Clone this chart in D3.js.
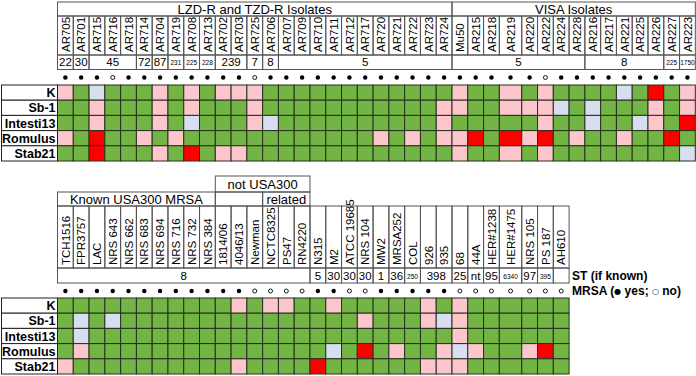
<!DOCTYPE html>
<html>
<head>
<meta charset="utf-8">
<script src="https://cdn.jsdelivr.net/npm/d3@7"></script>
<style>
  body { margin: 0; background: #fff; }
  svg { display: block; font-family: "Liberation Sans Narrow", "Liberation Sans", Arial, sans-serif; }
</style>
</head>
<body>
<svg id="chart" width="696" height="376"></svg>
<script>
// strains tested (rows)
const strains = ["K", "Sb-1", "Intesti13", "Romulus", "Stab21"];

// ---- top panel ----
const topIsolates = ["AR705", "AR701", "AR715", "AR716", "AR718", "AR714", "AR704", "AR719", "AR708", "AR713",
  "AR702", "AR703", "AR725", "AR706", "AR707", "AR709", "AR710", "AR711", "AR712", "AR717",
  "AR720", "AR721", "AR722", "AR723", "AR724", "Mu50", "AR215", "AR218", "AR219", "AR220",
  "AR222", "AR224", "AR228", "AR216", "AR217", "AR221", "AR225", "AR226", "AR227", "AR223"];
const topGroups = ["LZD-R and TZD-R Isolates", "VISA Isolates"];
const topGroupSpans = [25, 15];
const topST = ["22", "30", "45", "72", "87", "231", "225", "228", "239", "7", "8", "5", "5", "8", "225", "1750"];
const topSTSpans = [1, 1, 3, 1, 1, 1, 1, 1, 2, 1, 1, 11, 8, 5, 1, 1];
const topMRSA = "1110111111110111111111111111110111111111";
// G = green, P = pink, B = light blue, R = red
const topK         = "PGBGGGPGPGPPPG" + "GGGGGGGGGGG" + "PGGPGPGGGGBGRGP";
const topSb1       = "GGPGGGPGPGGGPG" + "GGGGGGGGGGP" + "PGGPPPBGBGGGPGP";
const topIntesti13 = "GGPGGGPGBGGGPB" + "GGGGGGGGGGP" + "GGGGGPGGBGGBPGR";
const topRomulus   = "PGRGGPGPGGGGGG" + "GGGGGGPGPGP" + "PRGRPRGPGGPGGRG";
const topStab21    = "GGRGGGPGRGPPGG" + "GGGGGGGGGGG" + "PGGPGPGGGGGGGGB";

// ---- bottom panel ----
const botIsolates = ["TCH1516", "FPR3757", "LAC", "NRS 643", "NRS 662", "NRS 683", "NRS 694", "NRS 716", "NRS 732", "NRS 384",
  "1814/06", "4046/13", "Newman", "NCTC8325", "PS47", "RN4220", "N315", "M2", "ATCC 19685", "NRS 104",
  "MW2", "MRSA252", "COL", "926", "935", "68", "44A", "HER#1238", "HER#1475", "NRS 105", "PS 187", "AH610"];
const botGroups = ["not USA300", "Known USA300 MRSA", "", "related"];
const botGroupStarts = [10, 0, 10, 13];
const botGroupSpans = [6, 10, 3, 3];
const botST = ["8", "5", "30", "30", "30", "1", "36", "250", "398", "25", "nt", "95", "6340", "97", "395", ""];
const botSTSpans = [16, 1, 1, 1, 1, 1, 1, 1, 2, 1, 1, 1, 1, 1, 1, 1];
const botMRSA = "11111111111100001100111110000000";
const botK         = "GGGG" + "GGGGGGG" + "PGPPG" + "GPGGGGG" + "PGP" + "GGGGGG";
const botSb1       = "GBGB" + "GGGGGGG" + "GGGGG" + "GGGPGGG" + "PBP" + "GGGGGG";
const botIntesti13 = "GBGG" + "GGGGGGG" + "GGGGG" + "GGGGGGG" + "GGP" + "GGGGGG";
const botRomulus   = "GPGG" + "GGGGGGG" + "GGGGG" + "GBGRGPG" + "GPB" + "PGGPRG";
const botStab21    = "PGGG" + "GGGGGGG" + "PGGGG" + "RGGGGGG" + "PPP" + "GGGGGG";

const svg = d3.select("#chart");
const color = d3.scaleOrdinal()
  .domain(["G", "P", "B", "R"])
  .range(["#72b545", "#fdc6cd", "#d7def0", "#ff0000"]);

const unit = 15.78, left = 57.5, wideFactor = 1.42;
const wide = new Set(["AR219", "HER#1475"]);

function columns(names) {
  const starts = [];
  let acc = 0;
  names.forEach(n => { starts.push(acc); acc += wide.has(n) ? wideFactor : 1; });
  const s = d3.scaleLinear().domain([0, acc]).range([left, left + acc * unit]);
  return {
    x: i => s(starts[i]),
    x2: i => s(starts[i] + (wide.has(names[i]) ? wideFactor : 1)),
    end: s(acc)
  };
}

function spanStarts(spans) {
  let acc = 0;
  return spans.map(n => { const s = acc; acc += n; return s; });
}

function box(g, x, y, w, h, stroke) {
  g.append("rect").attr("x", x).attr("y", y).attr("width", w).attr("height", h)
    .attr("fill", "none").attr("stroke", stroke).attr("stroke-width", 1);
}

function drawPanel(p) {
  const g = svg.append("g");
  const col = columns(p.isolates);
  const y = d3.scaleBand().domain(strains).range([p.gridTop, p.gridBottom]);

  // header groups
  p.groups.forEach((label, i) => {
    const a = p.groupStarts[i], b = a + p.groupSpans[i] - 1;
    const x0 = col.x(a), x1 = col.x2(b);
    box(g, x0, p.groupY[i][0], x1 - x0, p.groupY[i][1] - p.groupY[i][0], "#555");
    g.append("text").attr("x", (x0 + x1) / 2).attr("y", (p.groupY[i][0] + p.groupY[i][1]) / 2 + 4.5)
      .attr("text-anchor", "middle").attr("font-size", 13).text(label);
  });

  // isolate names
  p.isolates.forEach((name, i) => {
    const x0 = col.x(i), x1 = col.x2(i);
    box(g, x0, p.namesY[0], x1 - x0, p.namesY[1] - p.namesY[0], "#555");
    g.append("text")
      .attr("transform", `translate(${(x0 + x1) / 2 + 4.2},${p.namesY[1] - 3}) rotate(-90)`)
      .attr("font-size", 11.5).text(name);
  });

  // ST row
  const stStarts = spanStarts(p.stSpans);
  p.st.forEach((label, i) => {
    const a = stStarts[i], b = a + p.stSpans[i] - 1;
    const x0 = col.x(a), x1 = col.x2(b);
    box(g, x0, p.stY[0], x1 - x0, p.stY[1] - p.stY[0], "#555");
    const small = p.stSpans[i] === 1 && label.length >= 3;
    g.append("text").attr("x", (x0 + x1) / 2).attr("y", p.stY[1] - (small ? 4.5 : 3.5))
      .attr("text-anchor", "middle").attr("font-size", small ? 6.5 : 11.5).text(label);
  });

  // MRSA dots
  p.isolates.forEach((name, i) => {
    const cx = (col.x(i) + col.x2(i)) / 2;
    const filled = p.mrsa[i] === "1";
    g.append("circle").attr("cx", cx).attr("cy", p.dotY)
      .attr("r", filled ? 2.2 : 2)
      .attr("fill", filled ? "#000" : "#fff")
      .attr("stroke", "#000").attr("stroke-width", filled ? 0 : 0.9);
  });

  // heat cells
  strains.forEach((s, r) => {
    const codes = p.rows[r].split("");
    g.selectAll(null).data(codes).join("rect")
      .attr("x", (d, i) => col.x(i))
      .attr("y", y(s))
      .attr("width", (d, i) => col.x2(i) - col.x(i))
      .attr("height", y.bandwidth())
      .attr("fill", d => color(d))
      .attr("stroke", "#26301f").attr("stroke-width", 1);

    // row label
    g.append("rect").attr("x", 1.5).attr("y", y(s)).attr("width", left - 1.5).attr("height", y.bandwidth())
      .attr("fill", "#fff").attr("stroke", "#222").attr("stroke-width", 1);
    g.append("text").attr("x", left - 2).attr("y", y(s) + y.bandwidth() / 2 + 4.5)
      .attr("text-anchor", "end").attr("font-weight", "bold").attr("font-size", 12.5).text(s);
  });
  return col;
}

drawPanel({
  isolates: topIsolates,
  groups: topGroups, groupStarts: spanStarts(topGroupSpans), groupSpans: topGroupSpans,
  groupY: [[2, 16], [2, 16]],
  namesY: [16, 55], st: topST, stSpans: topSTSpans, stY: [55, 69.5],
  mrsa: topMRSA, dotY: 77.5,
  rows: [topK, topSb1, topIntesti13, topRomulus, topStab21],
  gridTop: 85, gridBottom: 161
});

const botCol = drawPanel({
  isolates: botIsolates,
  groups: botGroups, groupStarts: botGroupStarts, groupSpans: botGroupSpans,
  groupY: [[176, 192], [192, 206], [192, 206], [192, 206]],
  namesY: [206, 268], st: botST, stSpans: botSTSpans, stY: [268, 283],
  mrsa: botMRSA, dotY: 291,
  rows: [botK, botSb1, botIntesti13, botRomulus, botStab21],
  gridTop: 298, gridBottom: 374
});

svg.append("text").attr("x", botCol.end + 3).attr("y", 280)
  .attr("font-weight", "bold").attr("font-size", 12).text("ST (if known)");
const mrsaLabel = svg.append("text").attr("x", botCol.end + 3).attr("y", 295)
  .attr("font-weight", "bold").attr("font-size", 12);
mrsaLabel.append("tspan").text("MRSA (");
mrsaLabel.append("tspan").attr("font-family", "DejaVu Sans").attr("font-weight", "normal")
  .attr("font-size", 8).attr("dy", -1).text("\u25CF");
mrsaLabel.append("tspan").attr("dy", 1).text(" yes; ");
mrsaLabel.append("tspan").attr("font-family", "DejaVu Sans").attr("font-weight", "normal")
  .attr("font-size", 8).attr("dy", -1).text("\u25CB");
mrsaLabel.append("tspan").attr("dy", 1).text(" no)");
</script>
</body>
</html>
